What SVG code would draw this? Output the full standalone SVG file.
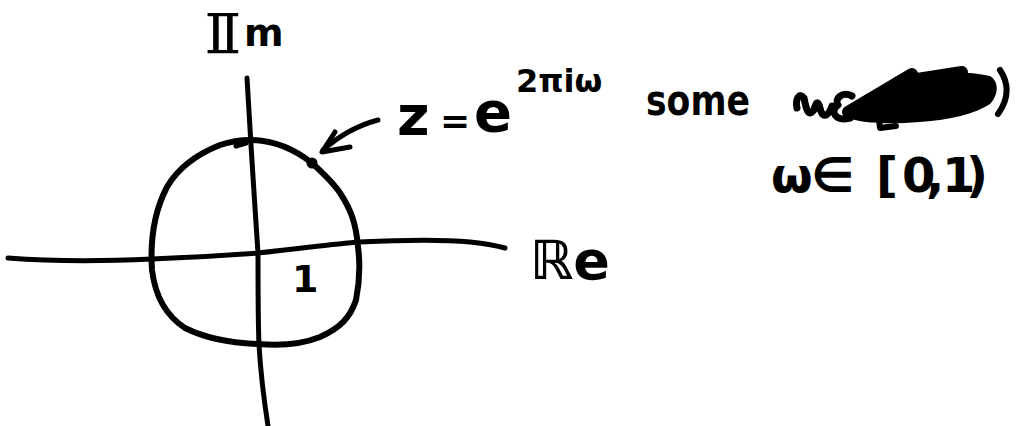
<svg xmlns="http://www.w3.org/2000/svg" width="1016" height="426" viewBox="0 0 1016 426">
<style>
.ink{fill:none;stroke:#000;stroke-linecap:round;stroke-linejoin:round}
.t{font-family:"DejaVu Sans","Liberation Sans",sans-serif;font-weight:bold;fill:#000}
</style>
<rect width="1016" height="426" fill="#fff"/>
<g id="axes">
<path class="ink" stroke-width="5" d="M8,258 C60,262 110,261 152,259 C200,257 230,255 258,253 C300,249 330,244 360,242 C400,240 440,239 470,242 C488,244 498,246 505,248"/>
<path class="ink" stroke-width="5" d="M247,78 C249,110 250,130 251,145 C253,180 256,220 258,253 C258,290 258,320 259,345 C261,380 264,400 268,426"/>
</g>
<g id="circle">
<path class="ink" stroke-width="6" d="M250,140 C270,140 290,146 312,163 C325,175 335,185 340,193 C350,208 356,222 358,247 C360,262 360,280 356,300 C350,318 340,328 320,337 C300,345 280,346 258,344 C230,343 205,338 185,328 C165,315 155,295 152,270 C150,240 155,210 167,187 C178,168 195,155 220,145 C232,141 242,140 250,140"/>
<path class="ink" stroke-width="5" d="M236,146 L246,143"/>
<circle cx="312" cy="163" r="5.5" fill="#000"/>
</g>
<g id="arrow">
<path class="ink" stroke-width="5" d="M378,120 Q348,128 323,150"/>
<path class="ink" stroke-width="5" d="M335,132 L322,152 L350,147"/>
</g>
<g id="labels">
<text class="t" x="0" y="53" font-size="56" transform="translate(201,0) scale(1.7,1)">𝕀</text>
<text class="t" x="244" y="46" font-size="38">m</text>
<text class="t" x="397" y="135" font-size="56">z</text>
<text class="t" x="440" y="133" font-size="36">=</text>
<text class="t" x="474" y="131" font-size="56">e</text>
<text class="t" x="516" y="92" font-size="32">2πiω</text>
<text class="t" x="646" y="115" font-size="42" textLength="104" lengthAdjust="spacingAndGlyphs">some</text>
<text class="t" y="192" font-size="48" x="771 811 876 902 926 942 966">ω∈[0,1)</text>
<text class="t" x="292" y="292" font-size="38">1</text>
<text class="t" x="530" y="279" font-size="54">ℝe</text>
</g>
<g id="scribble">
<path class="ink" stroke-width="7" d="M797,108 C795,98 800,92 804,98 C806,108 808,118 814,110 C816,102 818,100 820,108 C822,118 828,118 832,106"/>
<path class="ink" stroke-width="7" d="M852,96 C842,91 834,99 838,105 C830,110 834,122 850,118"/>
<path fill="#000" d="M846,110 C860,96 880,86 905,78 C930,72 965,70 990,76 C1000,82 998,96 990,104 C975,114 950,120 920,122 C895,124 870,124 855,120 C846,118 842,114 846,110 Z"/>
<path class="ink" stroke-width="12" d="M848,112 L912,74 M898,82 L962,72"/>
<path class="ink" stroke-width="3.5" stroke="#fff" d="M906,111 L952,99 M962,105 L968,104 M974,93 L984,90 M880,100 L890,96"/>
<path class="ink" stroke-width="6" d="M1000,70 C1010,85 1008,100 998,114 M878,112 L880,128 L896,126"/>
</g>
</svg>
